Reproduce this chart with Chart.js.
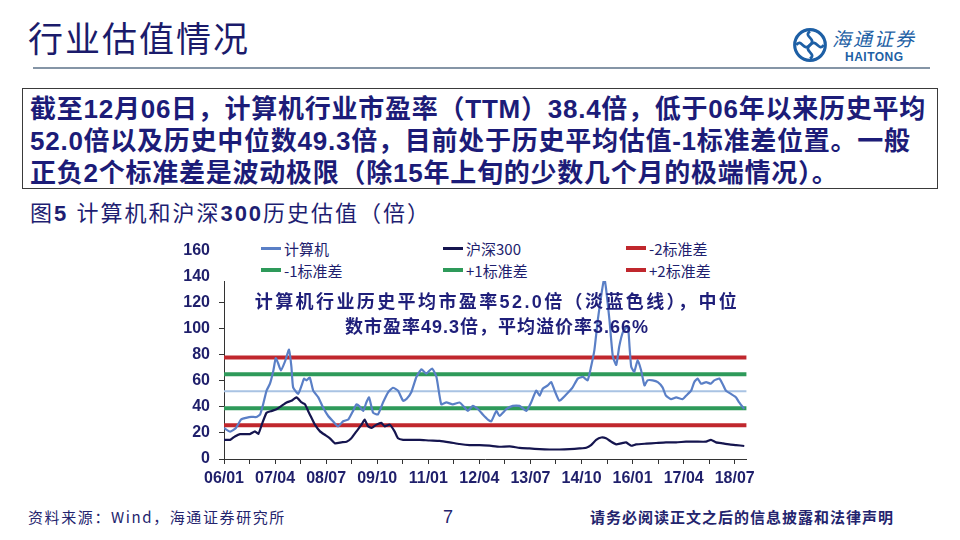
<!DOCTYPE html>
<html lang="zh-CN">
<head>
<meta charset="utf-8">
<title>行业估值情况</title>
<script src="https://cdn.jsdelivr.net/npm/chart.js@4.4.1/dist/chart.umd.min.js"></script>
<style>
  html, body { margin: 0; padding: 0; }
  body { width: 960px; height: 540px; position: relative; overflow: hidden; background: #fff;
         font-family: "Liberation Sans", "Noto Sans CJK SC", sans-serif; color: #1e1e72; }
  .titulo { position: absolute; left: 28px; top: 15px; font-family: "Noto Sans CJK SC"; font-size: 35px; line-height: 44px; color: #1b1b6b; letter-spacing: 2px; }
  .regla { position: absolute; left: 33px; top: 67px; width: 897px; height: 2px; background: #8595a6; }
  .logo { position: absolute; left: 790px; top: 26px; width: 150px; height: 40px; color: #1d5fa5; }
  .logo .nombre { position: absolute; left: 42px; top: 0px; font-family: "Noto Sans CJK SC"; font-style: italic; font-size: 19px; line-height: 24px; letter-spacing: 2px; }
  .logo .latin { position: absolute; left: 55px; top: 24px; font-weight: bold; font-size: 12px; line-height: 14px; letter-spacing: 0.5px; }
  .caja { position: absolute; left: 22px; top: 88px; width: 916px; height: 101px; border: 1px solid #3a3a3a;
          font-weight: bold; font-size: 26px; line-height: 32px; white-space: nowrap; color: #1c1c78; padding: 4px 0 0 7px; box-sizing: border-box; letter-spacing: 0.75px; }
  .figura { position: absolute; left: 30px; top: 200px; font-size: 22px; line-height: 28px; color: #1e1e72; white-space: nowrap; letter-spacing: 2px; }
  .figura b { font-weight: bold; }
  #marco { position: absolute; left: 170px; top: 232px; width: 590px; height: 265px; }
  .leyenda { position: absolute; left: 218px; top: 236px; width: 545px; height: 45px; background: #fff;
             display: grid; grid-template-columns: 182px 183px 140px; grid-auto-rows: 22px; padding: 1px 0 0 43px; box-sizing: border-box; }
  .leyenda div { display: flex; align-items: center; font-family: "Noto Sans CJK SC"; font-size: 15px; color: #1e1e6e; white-space: nowrap; }
  .leyenda span.muestra { display: inline-block; width: 20px; margin-right: 3px; }
  .nota { position: absolute; left: 200px; width: 594px; text-align: center; font-weight: bold; font-size: 18px; line-height: 24px; color: #1f1f7a; white-space: nowrap; letter-spacing: 1px; }
  .pie { position: absolute; top: 506px; font-family: "Noto Sans CJK SC"; font-size: 15px; line-height: 22px; color: #24246e; white-space: nowrap; }
</style>
</head>
<body>
<div class="titulo">行业估值情况</div>
<div class="regla"></div>
<div class="logo">
  <svg width="36" height="38" viewBox="0 0 34 36" style="position:absolute;left:2px;top:0">
    <circle cx="17" cy="18" r="14.5" fill="none" stroke="#1d5fa5" stroke-width="3"/>
    <path d="M17 5 C10 10, 24 12, 17 18 C10 24, 24 26, 17 31" fill="none" stroke="#1d5fa5" stroke-width="2.6"/>
    <path d="M4 18 C9 11, 11 25, 17 18 C23 11, 25 25, 30 18" fill="none" stroke="#1d5fa5" stroke-width="2.6"/>
  </svg>
  <div class="nombre">海通证券</div>
  <div class="latin">HAITONG</div>
</div>

<div class="caja">截至12月06日，计算机行业市盈率（TTM）38.4倍，低于06年以来历史平均<br>52.0倍以及历史中位数49.3倍，目前处于历史平均估值-1标准差位置。一般<br>正负2个标准差是波动极限（除15年上旬的少数几个月的极端情况）。</div>

<div class="figura">图<b>5</b> 计算机和沪深<b>300</b>历史估值（倍）</div>

<div id="marco"><canvas id="peCanvas" width="590" height="265"></canvas></div>
<div class="leyenda" id="leyenda"></div>

<div class="nota" style="top:290px; letter-spacing:2.4px">计算机行业历史平均市盈率52.0倍（淡蓝色线），中位</div>
<div class="nota" style="top:315px">数市盈率49.3倍，平均溢价率3.66%</div>

<div class="pie" style="left:28px; letter-spacing:1.6px">资料来源：Wind，海通证券研究所</div>
<div class="pie" style="left:443px; font-family:'Liberation Sans'; font-size:18px">7</div>
<div class="pie" style="left:590px; font-weight:bold; letter-spacing:1px">请务必阅读正文之后的信息披露和法律声明</div>

<script>
// months since 2006/01
const jsjMeses = [0, 1.8, 3.5, 5, 6.5, 8, 9.5, 10.6, 11.5, 12.5, 13.5, 14.5, 15.2, 15.9, 16.7, 17.9, 19.1, 19.8, 20.3, 21.8,
  22.8, 23.5, 24.2, 25.2, 26.2, 27.7, 29.1, 30.6, 32, 33.5, 35, 36.5, 37.9, 38.9, 39.8, 40.9, 41.8, 42.6, 43.8, 45.2,
  46.7, 48.2, 49.6, 51.1, 52.6, 53.6, 55, 56.5, 58, 59.4, 61.1, 62.4, 63.8, 65.3, 67.2, 69.2, 70.7, 71.6, 73.1, 74.6,
  76, 77.5, 78.5, 80, 80.9, 82.9, 84.8, 86.8, 88.8, 90.2, 91.7, 92.7, 93.6, 95.1, 96.1, 97.1, 98.5, 100.3, 102.4, 103.9,
  105.4, 106.8, 107.8, 108.8, 109.8, 110.8, 111.7, 112.2, 113.2, 114.2, 115.2, 116.1, 117.1, 118.6, 119.1, 119.6, 120.5, 121.5, 122.5, 123.5,
  124.4, 125.9, 127.4, 128.8, 129.8, 131.3, 132.8, 134.7, 135.7, 137.2, 138.1, 139.1, 140.1, 141.6, 143, 144, 145.5, 146.4, 147.4, 148.9,
  150.4, 151.3, 152.8];
const jsjPE = [23.8, 21, 23.8, 30.3, 31.6, 32.4, 32.2, 34.2, 42, 52.5, 57.8, 68, 77.4, 73.5, 68, 74.7, 84, 70.8, 55, 50,
  56.5, 61.7, 60.4, 62.5, 52.5, 47.3, 39.5, 33, 29, 25, 29, 30.3, 36.9, 42, 40.5, 36.9, 43.4, 47.3, 35.5, 34.2,
  43.4, 51.2, 54.7, 52.5, 44.7, 46, 51.2, 63, 68.8, 65.6, 69.5, 63, 42, 43.4, 42, 43.4, 39.5, 36.9, 40.8, 38.2,
  34.2, 30.3, 29, 36.9, 33, 38.2, 40.8, 40.8, 36.9, 43.4, 52.5, 48.6, 53.9, 56.5, 59, 52.5, 44.7, 49, 55, 61.7,
  63, 60.4, 70.8, 84, 107, 125.7, 138.8, 131, 107, 78.7, 72.2, 86.5, 97, 102, 86.5, 70.8, 66.9, 76, 68.2, 56.5,
  60.4, 60.4, 59, 55, 48.6, 46, 47.3, 46, 48.6, 52.5, 59, 61.7, 57.8, 59, 57.8, 60.4, 61.7, 57.8, 52.5, 50,
  47.3, 43.4, 38.4];

const hsMeses = [0, 1.8, 3.2, 4.7, 7.6, 9.1, 10.1, 11.1, 12.5, 14, 15.4, 16.9, 18.4, 19.8, 21.3, 22.8, 23.8, 24.7, 25.7, 26.7,
  28.2, 29.6, 31.1, 32.6, 34.5, 36, 37.4, 38.9, 40.4, 41.3, 42.3, 43.3, 44.8, 46.2, 47.2, 48.7, 50.1, 51.1, 52.6, 54.5,
  57.5, 60.4, 63.3, 66.3, 69.2, 72.1, 75.1, 78, 80.9, 83.9, 86.8, 89.7, 92.7, 95.6, 98.5, 101.5, 104.4, 106.4, 107.8, 109.3,
  110.8, 112.2, 113.7, 115.2, 116.6, 118.1, 119.6, 121, 124, 126.9, 129.8, 132.8, 135.7, 138.6, 141.6, 143, 144.5, 146.4, 148.4, 150.4,
  152.8];
const hsPE = [14.7, 14.7, 17.3, 19.1, 19.1, 21.2, 19.3, 26.4, 35.5, 36.9, 38.2, 40.8, 43.4, 44.7, 47.3, 43.4, 42, 36.9, 31.6, 26.4,
  21.2, 18.6, 15.9, 12, 12.8, 13.3, 15.9, 21.2, 26.4, 30.3, 25.1, 23.8, 26.4, 27.7, 25.1, 26.4, 21.2, 15.9, 14.7, 14.7,
  14.7, 14.2, 13.9, 12.8, 11.5, 10.7, 10.7, 10.2, 9.4, 9.7, 8.6, 8.1, 7.6, 7.3, 7.3, 7.6, 8.1, 8.6, 10.7, 14.7,
  16.5, 15.9, 13.3, 11.2, 12, 12.8, 10.2, 11.2, 11.8, 12.3, 12.8, 12.8, 13.3, 13.3, 13.3, 14.7, 12.8, 12, 11.2, 10.7,
  10];

// historical mean and the standard-deviation bands
const mediaHist = 52.0;
const bandasNombres = ['-2标准差', '-1标准差', '+1标准差', '+2标准差'];
const bandasValores = [26.0, 39.0, 65.0, 78.0];
const bandasColores = ['#c0272d', '#2e9a5a', '#2e9a5a', '#c0272d'];

const xTickLabels = ['06/01', '07/04', '08/07', '09/10', '11/01', '12/04', '13/07', '14/10', '16/01', '17/04', '18/07'];
const xFin = 153.5;

const tinta = '#1f1f6b';
const ejeColor = '#333333';

const puntos = (xs, ys) => xs.map((x, i) => ({ x, y: ys[i] }));
const horizontal = v => [{ x: 0, y: v }, { x: xFin, y: v }];

const datasets = [
  { label: '计算机', data: puntos(jsjMeses, jsjPE), borderColor: '#5a7fc6', borderWidth: 2.2, tension: 0.15 },
  { label: '沪深300', data: puntos(hsMeses, hsPE), borderColor: '#15154f', borderWidth: 2.2, tension: 0.15 },
  { label: '均值', data: horizontal(mediaHist), borderColor: '#a9c3e3', borderWidth: 2 }
];
bandasNombres.forEach((n, i) => {
  datasets.push({ label: n, data: horizontal(bandasValores[i]), borderColor: bandasColores[i], borderWidth: 4 });
});
datasets.forEach(d => { d.pointRadius = 0; d.fill = false; });

const ctx = document.getElementById('peCanvas').getContext('2d');
const peChart = new Chart(ctx, {
  type: 'line',
  data: { datasets },
  options: {
    responsive: false,
    animation: false,
    layout: { padding: { top: 13, right: 11, left: 0, bottom: 0 } },
    plugins: { legend: { display: false }, tooltip: { enabled: false } },
    scales: {
      x: {
        type: 'linear', min: 0, max: xFin,
        afterFit: s => { s.height = 38; },
        border: { color: ejeColor, width: 1 },
        grid: { drawOnChartArea: false, drawTicks: true, tickLength: 5, color: ejeColor },
        ticks: {
          stepSize: 7.5, includeBounds: false, autoSkip: false, maxRotation: 0, padding: 5,
          color: tinta, font: { family: 'Liberation Sans', size: 16, weight: 'bold' },
          callback: v => (v % 15 === 0 ? xTickLabels[v / 15] : '')
        }
      },
      y: {
        min: 0, max: 160,
        afterFit: s => { s.width = 54; },
        border: { color: ejeColor, width: 1 },
        grid: { drawOnChartArea: false, drawTicks: true, tickLength: 5, color: ejeColor },
        ticks: { stepSize: 20, padding: 9, color: tinta, font: { family: 'Liberation Sans', size: 16, weight: 'bold' } }
      }
    }
  }
});

// legend in three columns, laid over the top of the plot like the original
const orden = ['计算机', '沪深300', '-2标准差', '-1标准差', '+1标准差', '+2标准差'];
const leyenda = document.getElementById('leyenda');
orden.forEach(nombre => {
  const d = datasets.find(ds => ds.label === nombre);
  const item = document.createElement('div');
  const grosor = d.borderWidth >= 4 ? 4 : 3;
  item.innerHTML = `<span class="muestra" style="height:${grosor}px;background:${d.borderColor}"></span>${nombre}`;
  leyenda.appendChild(item);
});
</script>
</body>
</html>
